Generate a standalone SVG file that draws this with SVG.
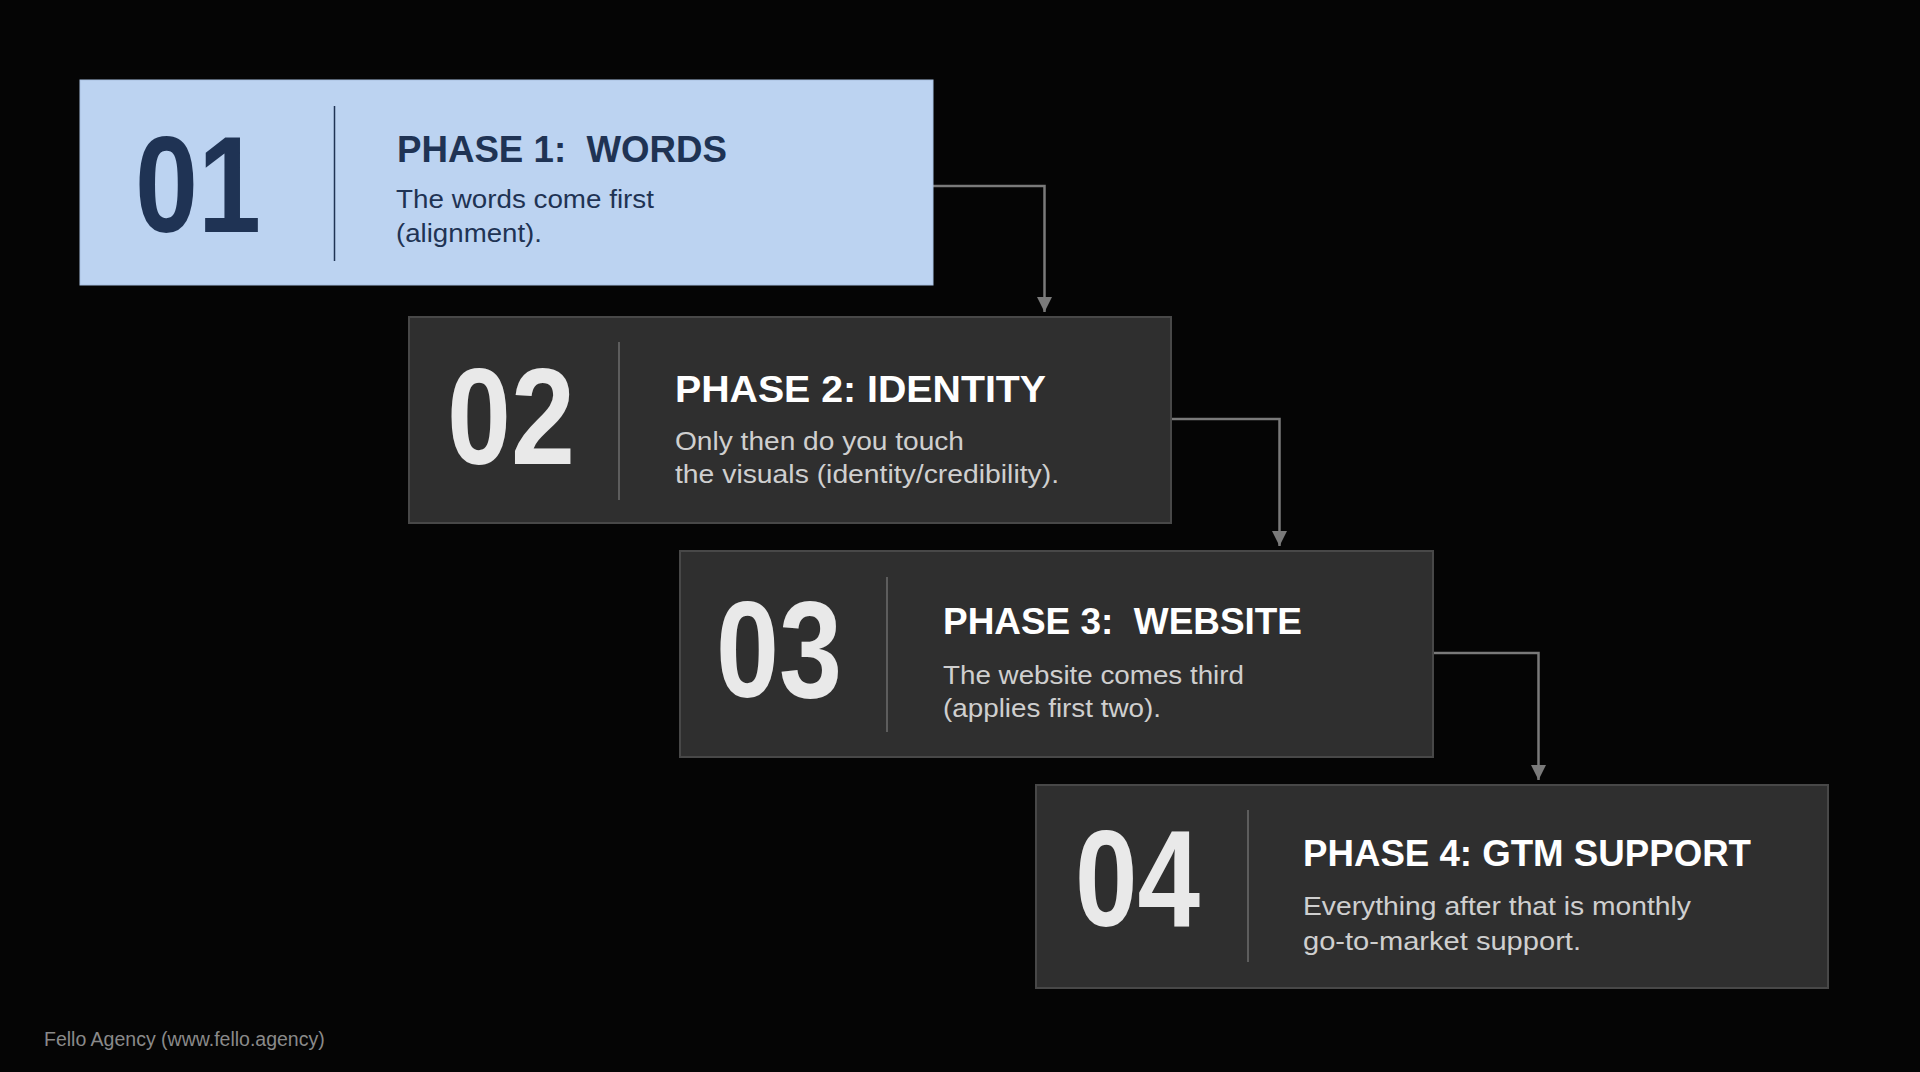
<svg xmlns="http://www.w3.org/2000/svg" width="1920" height="1072" viewBox="0 0 1920 1072">
<style>
.bg{fill:#050505}
.dark{fill:#2f2f2f;stroke:#484848;stroke-width:2}
.light{fill:#bcd3f1;stroke:#a9c1e2;stroke-width:1}
.num{font-family:"Liberation Sans",Arial,sans-serif;font-weight:700;font-size:137px}
.title{font-family:"Liberation Sans",Arial,sans-serif;font-weight:700;font-size:37px;white-space:pre}
.body{font-family:"Liberation Sans",Arial,sans-serif;font-size:26.5px}
.dnum{fill:#e9e9e9}.dtitle{fill:#ffffff}.dbody{fill:#cfcfcf}
.lnum{fill:#1f3354}.ltitle{fill:#1f3354}.lbody{fill:#1f3354}
.ddiv{stroke:#6e6e6e;stroke-width:1.5}
.ldiv{stroke:#1f3354;stroke-width:1.5}
.conn{fill:none;stroke:#7a7a7a;stroke-width:2.5}
.foot{font-family:"Liberation Sans",Arial,sans-serif;font-size:19.5px;fill:#8a8a8a}
</style>
<defs>
<marker id="arr" viewBox="0 0 10 10" refX="10" refY="5" markerWidth="6" markerHeight="6" orient="auto" markerUnits="strokeWidth">
<path d="M0,0 L10,5 L0,10 z" fill="#7a7a7a"/>
</marker>
</defs>
<rect class="bg" x="0" y="0" width="1920" height="1072"/>

<g id="connectors">
<path class="conn" d="M933,186 H1044.5 V312" marker-end="url(#arr)"/>
<path class="conn" d="M1171,419 H1279.5 V546" marker-end="url(#arr)"/>
<path class="conn" d="M1433,653 H1538.5 V780" marker-end="url(#arr)"/>
</g>

<g id="phase1">
<rect class="light" x="80" y="80" width="853" height="205"/>
<line class="ldiv" x1="334.5" y1="106" x2="334.5" y2="261"/>
<text class="num lnum" x="135" y="232" textLength="126" lengthAdjust="spacingAndGlyphs">01</text>
<text class="title ltitle" x="397" y="162" textLength="330" lengthAdjust="spacingAndGlyphs">PHASE 1:  WORDS</text>
<text class="body lbody" x="396" y="208" textLength="258" lengthAdjust="spacingAndGlyphs">The words come first</text>
<text class="body lbody" x="396" y="242" textLength="146" lengthAdjust="spacingAndGlyphs">(alignment).</text>
</g>

<g id="phase2">
<rect class="dark" x="409" y="317" width="762" height="206"/>
<line class="ddiv" x1="619" y1="342" x2="619" y2="500"/>
<text class="num dnum" x="447" y="464" textLength="128" lengthAdjust="spacingAndGlyphs">02</text>
<text class="title dtitle" x="675" y="402" textLength="371" lengthAdjust="spacingAndGlyphs">PHASE 2: IDENTITY</text>
<text class="body dbody" x="675" y="450" textLength="289" lengthAdjust="spacingAndGlyphs">Only then do you touch</text>
<text class="body dbody" x="675" y="483" textLength="384" lengthAdjust="spacingAndGlyphs">the visuals (identity/credibility).</text>
</g>

<g id="phase3">
<rect class="dark" x="680" y="551" width="753" height="206"/>
<line class="ddiv" x1="887" y1="577" x2="887" y2="732"/>
<text class="num dnum" x="716" y="697" textLength="126" lengthAdjust="spacingAndGlyphs">03</text>
<text class="title dtitle" x="943" y="634" textLength="359" lengthAdjust="spacingAndGlyphs">PHASE 3:  WEBSITE</text>
<text class="body dbody" x="943" y="684" textLength="301" lengthAdjust="spacingAndGlyphs">The website comes third</text>
<text class="body dbody" x="943" y="717" textLength="218" lengthAdjust="spacingAndGlyphs">(applies first two).</text>
</g>

<g id="phase4">
<rect class="dark" x="1036" y="785" width="792" height="203"/>
<line class="ddiv" x1="1248" y1="810" x2="1248" y2="962"/>
<text class="num dnum" x="1075" y="926" textLength="125" lengthAdjust="spacingAndGlyphs">04</text>
<text class="title dtitle" x="1303" y="866" textLength="448" lengthAdjust="spacingAndGlyphs">PHASE 4: GTM SUPPORT</text>
<text class="body dbody" x="1303" y="915" textLength="388" lengthAdjust="spacingAndGlyphs">Everything after that is monthly</text>
<text class="body dbody" x="1303" y="950" textLength="278" lengthAdjust="spacingAndGlyphs">go-to-market support.</text>
</g>

<g id="footer">
<text class="foot" x="44" y="1046">Fello Agency (www.fello.agency)</text>
</g>
</svg>
